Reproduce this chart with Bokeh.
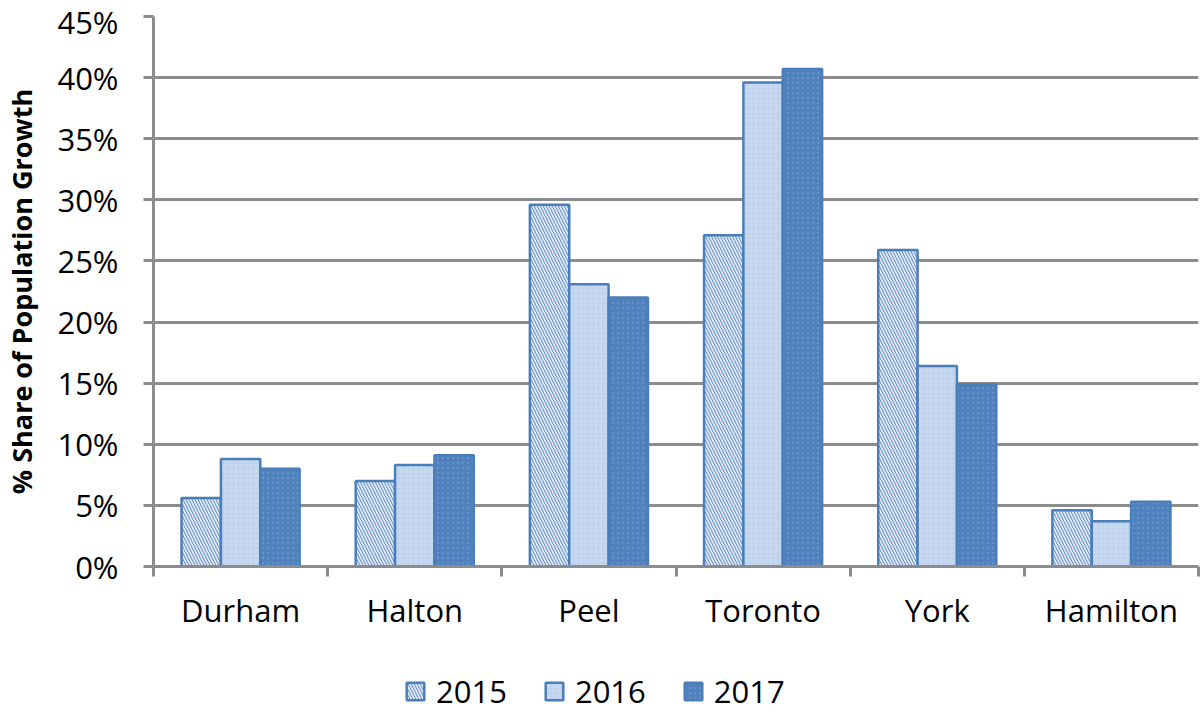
import numpy as np
from bokeh.plotting import figure
from bokeh.layouts import column
from bokeh.models import (Range1d, FixedTicker, Legend, LegendItem, ColumnDataSource)
from bokeh.embed import file_html
from bokeh.resources import INLINE

categories = ["Durham", "Halton", "Peel", "Toronto", "York", "Hamilton"]
years = ["2015", "2016", "2017"]
v2015 = [5.6, 7.0, 29.6, 27.1, 25.9, 4.6]
v2016 = [8.8, 8.3, 23.1, 39.6, 16.4, 3.7]
v2017 = [8.0, 9.1, 22.0, 40.7, 14.9, 5.3]
y_ticks = [0, 5, 10, 15, 20, 25, 30, 35, 40, 45]

FONT = "Open Sans"
GRID = "#8c8c8c"
W = 1200

p = figure(width=W, height=640, output_backend="svg", toolbar_location=None,
           x_range=Range1d(0, len(categories)), y_range=Range1d(0, 45),
           min_border_left=152, min_border_right=2, min_border_top=16,
           min_border_bottom=74)
p.outline_line_color = None
p.background_fill_color = "white"

series = [
    dict(vals=v2015, off=-1, fill="#dce6f2", hatch="\\", hcol="#4f81bd", hscale=6.0, halpha=0.85),
    dict(vals=v2016, off=0, fill="#c6d9f1", hatch="+", hcol="#b4cae6", hscale=5.0, halpha=0.5),
    dict(vals=v2017, off=1, fill="#4f81bd", hatch=".", hcol="#7ea2d1", hscale=5.0, halpha=0.5),
]
bw = 0.226
renderers = []
for s in series:
    src = ColumnDataSource(dict(x=np.arange(len(categories)) + 0.5 + s["off"] * bw,
                                top=s["vals"]))
    r = p.vbar(x="x", top="top", width=bw, bottom=0, source=src,
               fill_color=s["fill"], line_color="#4a7ebb", line_width=2.5,
               hatch_pattern=s["hatch"], hatch_color=s["hcol"],
               hatch_scale=s["hscale"], hatch_weight=1, hatch_alpha=s["halpha"])
    renderers.append(r)

# grid
p.xgrid.visible = False
p.ygrid.grid_line_color = GRID
p.ygrid.grid_line_width = 3
p.ygrid.ticker = FixedTicker(ticks=y_ticks)

# y axis
p.yaxis.ticker = FixedTicker(ticks=y_ticks)
p.yaxis.major_label_overrides = {t: f"{t}%" for t in y_ticks}
p.yaxis.axis_line_color = GRID
p.yaxis.axis_line_width = 3
p.yaxis.major_tick_line_color = GRID
p.yaxis.major_tick_line_width = 3
p.yaxis.major_tick_out = 10
p.yaxis.major_tick_in = 0
p.yaxis.minor_tick_line_color = None
p.yaxis.major_label_text_font = FONT
p.yaxis.major_label_text_font_size = "31px"
p.yaxis.major_label_text_color = "black"
p.yaxis.major_label_standoff = 25
p.yaxis.axis_label = "% Share of Population Growth"
p.yaxis.axis_label_text_font = FONT
p.yaxis.axis_label_text_font_style = "bold"
p.yaxis.axis_label_text_font_size = "27px"
p.yaxis.axis_label_text_color = "black"
p.yaxis.axis_label_standoff = 14

# x axis: labels at centres, ticks at boundaries (minor ticks)
centers = [i + 0.5 for i in range(len(categories))]
bounds = list(range(len(categories) + 1))
p.xaxis.ticker = FixedTicker(ticks=centers, minor_ticks=bounds)
p.xaxis.major_label_overrides = {c: n for c, n in zip(centers, categories)}
p.xaxis.axis_line_color = GRID
p.xaxis.axis_line_width = 3
p.xaxis.major_tick_line_color = None
p.xaxis.minor_tick_line_color = GRID
p.xaxis.minor_tick_line_width = 3
p.xaxis.minor_tick_out = 10
p.xaxis.minor_tick_in = 0
p.xaxis.major_label_text_font = FONT
p.xaxis.major_label_text_font_size = "31px"
p.xaxis.major_label_text_color = "black"
p.xaxis.major_label_standoff = 12

# legend in a small companion figure below the chart
lg = figure(width=W, height=72, output_backend="svg", toolbar_location=None,
            x_range=Range1d(0, 1), y_range=Range1d(0, 1),
            x_axis_type=None, y_axis_type=None,
            min_border_left=0, min_border_right=0, min_border_top=0, min_border_bottom=0)
lg.outline_line_color = None
lg.xgrid.visible = False
lg.ygrid.visible = False
lg_renderers = []
for s in series:
    # hidden proxy renderers: only their legend swatches are drawn
    src = ColumnDataSource(dict(x=[0.5], top=[1.0]))
    r = lg.vbar(x="x", top="top", bottom=0, width=0.1, source=src,
                fill_color=s["fill"], line_color="#4a7ebb", line_width=2.5,
                hatch_pattern=s["hatch"], hatch_color=s["hcol"],
                hatch_scale=s["hscale"], hatch_weight=1, hatch_alpha=s["halpha"],
                visible=False)
    lg_renderers.append(r)

legend = Legend(items=[LegendItem(label=y, renderers=[r]) for y, r in zip(years, lg_renderers)],
                orientation="horizontal", location=(251, 0),
                label_text_font=FONT, label_text_font_size="31px", label_text_color="black",
                glyph_width=22, glyph_height=22, label_standoff=10, spacing=36,
                border_line_color=None, background_fill_alpha=0,
                inactive_fill_alpha=0,
                margin=0, padding=0)
lg.add_layout(legend, "center")

layout = column(p, lg, spacing=0)
open("out.html", "w").write(file_html(layout, INLINE))
